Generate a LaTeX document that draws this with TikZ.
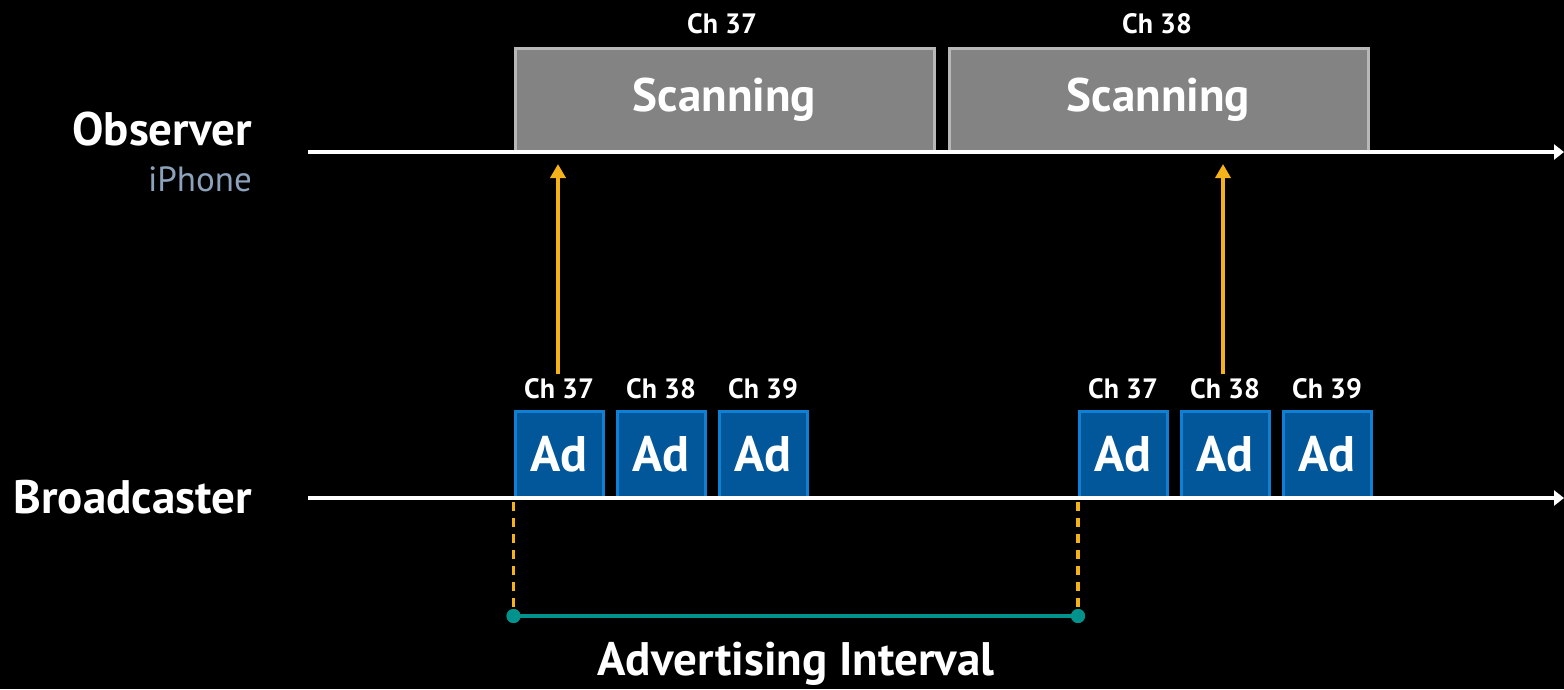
\documentclass[tikz,border=0pt]{standalone}
\usepackage{fontspec}
\setmainfont{PT Sans}
\usetikzlibrary{arrows.meta}
\definecolor{scanfill}{HTML}{838383}
\definecolor{scanedge}{HTML}{B8B8B8}
\definecolor{adfill}{HTML}{02579B}
\definecolor{adedge}{HTML}{0F80D4}
\definecolor{amber}{HTML}{F5B21A}
\definecolor{teal2}{HTML}{00928D}
\definecolor{phone}{HTML}{8CA2BC}
\begin{document}
\begin{tikzpicture}[x=1pt,y=-1pt,
  axis/.style={draw=white,line width=4pt,-{Triangle[length=10pt,width=15pt]}},
  scanbox/.style={draw=scanedge,fill=scanfill,line width=3pt,minimum width=419pt,minimum height=104pt,inner sep=0pt,anchor=north west,text=white,font=\bfseries\fontsize{47}{47}\selectfont},
  adbox/.style={draw=adedge,fill=adfill,line width=3pt,minimum width=88pt,minimum height=86pt,inner sep=0pt,anchor=north west,text=white,font=\bfseries\fontsize{50}{50}\selectfont},
  chlab/.style={text=white,font=\bfseries\fontsize{28}{28}\selectfont,inner sep=0pt},
  biglab/.style={text=white,font=\bfseries\fontsize{47}{47}\selectfont,inner sep=0pt},
  uparrow/.style={draw=amber,line width=4pt,-{Triangle[length=14pt,width=15pt]}},
  dashline/.style={draw=amber,line width=3.5pt,dash pattern=on 9pt off 7pt},
  interval/.style={draw=teal2,line width=4pt},
  dot/.style={circle,fill=teal2,minimum size=14pt,inner sep=0pt}
]
\useasboundingbox[fill=black] (0,0) rectangle (1564,689);
% axes
\coordinate (oA) at (308,152);
\coordinate (oB) at (1564,152);
\coordinate (bA) at (308,498);
\coordinate (bB) at (1564,498);
% scanning boxes
\node[scanbox] (s1) at (513.5,46.5) {Scanning};
\node[scanbox] (s2) at (947.5,46.5) {Scanning};
\node[chlab] (s1l) at (722,24) {Ch 37};
\node[chlab] (s2l) at (1157,24) {Ch 38};
\draw[axis] (oA) -- (oB);
% labels
\node[biglab,anchor=east] (obs) at (252,129) {Observer};
\node[text=phone,font=\fontsize{35}{35}\selectfont,inner sep=0pt,anchor=east] (iph) at (252,179) {iPhone};
\node[biglab,anchor=east] (brd) at (252,497) {Broadcaster};
% ad boxes
\foreach \n/\x/\c in {a1/513.5/37,a2/615.5/38,a3/717.5/39,b1/1077.5/37,b2/1179.5/38,b3/1281.5/39}{
  \node[adbox] (\n) at (\x,409.5) {Ad};
  \node[chlab] (\n l) at ([yshift=21pt]\n.north) {Ch \c};
}
\draw[axis] (bA) -- (bB);
% arrows
\coordinate (t1) at (558,164);
\coordinate (t2) at (1223,164);
\draw[uparrow] ([yshift=4pt]a1l.north -| t1) -- (t1);
\draw[uparrow] ([yshift=4pt]b2l.north -| t2) -- (t2);
% interval
\node[dot] (d1) at (513.5,616) {};
\node[dot] (d2) at (1078,616) {};
\draw[dashline] (513.5,502) -- (d1.center);
\draw[dashline] (1078,502) -- (d2.center);
\draw[interval] (d1.center) -- (d2.center);
\node[dot] at (d1) {};
\node[dot] at (d2) {};
\node[biglab] (adv) at (796,664) {Advertising Interval};
\end{tikzpicture}
\end{document}
